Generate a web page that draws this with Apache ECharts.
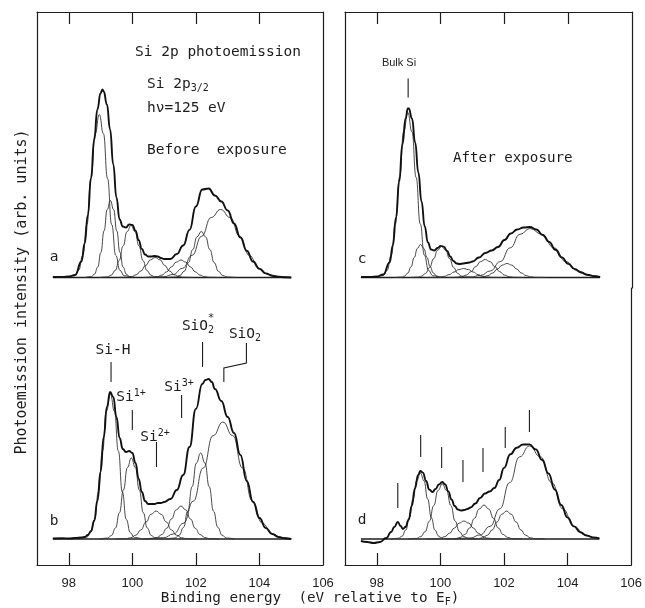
<!DOCTYPE html>
<html><head><meta charset="utf-8">
<script src="https://cdn.jsdelivr.net/npm/echarts@6/dist/echarts.min.js"></script>
<style>html,body{margin:0;padding:0;background:#fff}#c{width:645px;height:608px}</style>
</head><body><div id="c"></div><script>
// ---------- axis ticks ----------
const xTickValues = [98, 100, 102, 104];
const xLabelValues = [98, 100, 102, 104, 106];
const baseline = [[97.5, 0], [105.0, 0]];

// ---------- panel a : before exposure ----------
const aBulk = [[97.92,0],[98.18,1.8],[98.31,7.2],[98.44,22.1],[98.57,52.9],[98.70,98.9],[98.83,143.8],[98.96,163],[99.09,143.8],[99.22,98.9],[99.35,52.9],[99.48,22.1],[99.61,7.2],[99.74,1.8],[100.0,0]];
const aSiH = [[98.51,0],[98.71,0.85],[98.81,3.4],[98.91,10.4],[99.01,25.0],[99.11,46.7],[99.21,68.0],[99.31,77],[99.41,68.0],[99.51,46.7],[99.61,25.0],[99.71,10.4],[99.81,3.4],[99.91,0.85],[100.11,0]];
const aSi1 = [[98.96,0],[99.21,0.58],[99.335,2.3],[99.46,7.0],[99.585,16.9],[99.71,31.5],[99.835,45.9],[99.96,52],[100.085,45.9],[100.21,31.5],[100.335,16.9],[100.46,7.0],[100.585,2.3],[100.71,0.58],[100.96,0]];
const aSi2 = [[99.52,0],[99.82,0.22],[99.97,0.88],[100.12,2.7],[100.27,6.5],[100.42,12.1],[100.57,17.7],[100.72,20],[100.87,17.7],[101.02,12.1],[101.17,6.5],[101.32,2.7],[101.47,0.88],[101.62,0.22],[101.92,0]];
const aSi3 = [[100.33,0],[100.63,0.19],[100.78,0.77],[100.93,2.4],[101.08,5.7],[101.23,10.6],[101.38,15.4],[101.53,17.5],[101.68,15.4],[101.83,10.6],[101.98,5.7],[102.13,2.4],[102.28,0.77],[102.43,0.19],[102.73,0]];
const aSiO2s = [[101.09,0],[101.36,0.51],[101.495,2.0],[101.63,6.2],[101.765,14.9],[101.9,27.9],[102.035,40.6],[102.17,46],[102.305,40.6],[102.44,27.9],[102.575,14.9],[102.71,6.2],[102.845,2.0],[102.98,0.51],[103.25,0]];
const aSiO2 = [[100.4,0],[100.98,0.75],[101.28,3.0],[101.58,9.2],[101.88,22.1],[102.18,41.2],[102.48,60.0],[102.78,68],[103.08,60.0],[103.38,41.2],[103.68,22.1],[103.98,9.2],[104.28,3.0],[104.58,0.75],[105.0,0]];
const aFit = [[97.5,0.5],[97.8,0.6],[98.0,1],[98.2,2.5],[98.4,16],[98.5,34],[98.6,62.6],[98.7,99.6],[98.8,137.8],[98.9,168],[99.0,184.3],[99.06,188],[99.1,186],[99.2,173],[99.3,148],[99.4,113],[99.5,80],[99.6,58],[99.7,51],[99.8,50],[99.9,53],[100.0,52.6],[100.1,46.9],[100.2,37.3],[100.3,28.5],[100.4,23],[100.5,21],[100.6,21],[100.7,21.5],[100.8,21],[100.9,19.5],[101.0,18.5],[101.2,18.5],[101.4,23.5],[101.6,32],[101.8,47.6],[102.0,71],[102.2,88],[102.4,89],[102.6,82],[102.8,76],[103.0,67],[103.2,54],[103.4,40],[103.6,26.7],[103.8,16],[104.0,8.6],[104.2,4.1],[104.4,1.8],[104.6,0.7],[104.8,0.3],[105.0,0]];

// ---------- panel b : before exposure (labelled components) ----------
const bSiH = [[98.31,0],[98.56,1.6],[98.685,6.4],[98.81,19.6],[98.935,47.1],[99.06,88.0],[99.185,128],[99.31,145],[99.435,128],[99.56,88.0],[99.685,47.1],[99.81,19.6],[99.935,6.4],[100.06,1.6],[100.31,0]];
const bSi1 = [[98.97,0],[99.22,0.9],[99.345,3.6],[99.47,11.0],[99.595,26.3],[99.72,49.1],[99.845,71.5],[99.97,81],[100.095,71.5],[100.22,49.1],[100.345,26.3],[100.47,11.0],[100.595,3.6],[100.72,0.9],[100.97,0]];
const bSi2 = [[99.47,0],[99.79,0.31],[99.95,1.23],[100.11,3.8],[100.27,9.1],[100.43,17.0],[100.59,24.7],[100.75,28],[100.91,24.7],[101.07,17.0],[101.23,9.1],[101.39,3.8],[101.55,1.23],[101.71,0.31],[102.03,0]];
const bSi3 = [[100.33,0],[100.63,0.37],[100.78,1.45],[100.93,4.5],[101.08,10.7],[101.23,20.0],[101.38,29.1],[101.53,33],[101.68,29.1],[101.83,20.0],[101.98,10.7],[102.13,4.5],[102.28,1.45],[102.43,0.37],[102.73,0]];
const bSiO2s = [[101.07,0],[101.34,0.95],[101.475,3.8],[101.61,11.6],[101.745,27.9],[101.88,52.2],[102.015,75.9],[102.15,86],[102.285,75.9],[102.42,52.2],[102.555,27.9],[102.69,11.6],[102.825,3.8],[102.96,0.95],[103.23,0]];
const bSiO2 = [[100.4,0],[100.99,1.3],[101.3,5.1],[101.61,15.8],[101.92,38.0],[102.23,71.0],[102.54,103.3],[102.85,117],[103.16,103.3],[103.47,71.0],[103.78,38.0],[104.09,15.8],[104.4,5.1],[104.71,1.3],[105.0,0]];
const bFit = [[97.5,0.5],[97.8,0.8],[98.0,0.5],[98.2,1],[98.4,1.5],[98.5,2],[98.6,4],[98.7,8],[98.8,18],[98.9,38],[99.0,67],[99.1,102],[99.2,132],[99.3,147],[99.4,142],[99.5,122],[99.6,101],[99.7,90],[99.8,87],[99.9,88],[100.0,86],[100.1,76],[100.2,60],[100.3,47],[100.4,38],[100.5,35],[100.6,35],[100.7,35],[100.8,36],[100.9,36],[101.0,37],[101.2,40],[101.4,49],[101.6,64],[101.8,92],[102.0,130],[102.2,155],[102.3,159],[102.4,160],[102.5,157],[102.6,150],[102.8,138],[103.0,122],[103.2,106],[103.4,84],[103.6,58],[103.8,37],[104.0,21],[104.2,11],[104.4,5],[104.6,2],[104.8,0.8],[105.0,0]];

// ---------- panel c : after exposure ----------
const cBulk = [[97.93,0],[98.19,1.8],[98.32,7.2],[98.45,22.3],[98.58,53.6],[98.71,100.1],[98.84,145.6],[98.97,165],[99.10,145.6],[99.23,100.1],[99.36,53.6],[99.49,22.3],[99.62,7.2],[99.75,1.8],[100.01,0]];
const cSiH = [[98.57,0],[98.77,0.37],[98.87,1.45],[98.97,4.5],[99.07,10.7],[99.17,20.0],[99.27,29.1],[99.37,33],[99.47,29.1],[99.57,20.0],[99.67,10.7],[99.77,4.5],[99.87,1.45],[99.97,0.37],[100.17,0]];
const cSi1 = [[99.03,0],[99.28,0.34],[99.405,1.36],[99.53,4.2],[99.655,10.1],[99.78,18.8],[99.905,27.4],[100.03,31],[100.155,27.4],[100.28,18.8],[100.405,10.1],[100.53,4.2],[100.655,1.36],[100.78,0.34],[101.03,0]];
const cSi2 = [[99.52,0],[99.82,0.1],[99.97,0.4],[100.12,1.2],[100.27,2.9],[100.42,5.5],[100.57,7.9],[100.72,9],[100.87,7.9],[101.02,5.5],[101.17,2.9],[101.32,1.2],[101.47,0.4],[101.62,0.1],[101.92,0]];
const cSi3 = [[100.2,0],[100.5,0.2],[100.65,0.8],[100.8,2.4],[100.95,5.8],[101.1,10.9],[101.25,15.9],[101.4,18],[101.55,15.9],[101.7,10.9],[101.85,5.8],[102.0,2.4],[102.15,0.8],[102.3,0.2],[102.6,0]];
const cSiO2s = [[100.88,0],[101.18,0.16],[101.33,0.6],[101.48,1.9],[101.63,4.5],[101.78,8.5],[101.93,12.4],[102.08,14],[102.23,12.4],[102.38,8.5],[102.53,4.5],[102.68,1.9],[102.83,0.6],[102.98,0.16],[103.28,0]];
const cSiO2 = [[100.4,0],[100.94,0.54],[101.25,2.15],[101.56,6.6],[101.87,15.9],[102.18,29.7],[102.49,43.2],[102.8,49],[103.175,43.2],[103.55,29.7],[103.925,15.9],[104.3,6.6],[104.675,2.15],[105.0,0.6]];
const cFit = [[97.5,0.5],[97.8,0.5],[98.0,1],[98.2,3],[98.4,15],[98.5,32],[98.6,60],[98.7,96],[98.8,133],[98.9,159],[98.97,169],[99.0,169],[99.1,159],[99.2,135],[99.3,105],[99.4,76],[99.5,51],[99.6,35],[99.7,28],[99.8,27],[99.9,29.5],[100.0,31.6],[100.1,30.9],[100.2,26.6],[100.3,21],[100.4,16.5],[100.5,14],[100.6,13.5],[100.7,14],[100.8,14.5],[100.9,15],[101.0,16],[101.2,20],[101.4,24.5],[101.6,27],[101.8,30.5],[102.0,37.5],[102.2,44],[102.4,48],[102.6,50],[102.8,50.5],[103.0,48],[103.2,42.5],[103.4,35.6],[103.6,27.7],[103.8,20.1],[104.0,13.6],[104.2,8.6],[104.4,5],[104.6,2.8],[104.8,1.4],[105.0,0.6]];

// ---------- panel d : after exposure (marked components) ----------
const dSiH = [[98.45,0],[98.68,0.73],[98.795,2.9],[98.91,8.9],[99.025,21.4],[99.14,40.0],[99.255,58.2],[99.37,66],[99.485,58.2],[99.6,40.0],[99.715,21.4],[99.83,8.9],[99.945,2.9],[100.06,0.73],[100.29,0]];
const dSi1 = [[98.98,0],[99.25,0.61],[99.385,2.4],[99.52,7.4],[99.655,17.9],[99.79,33.4],[99.925,48.5],[100.06,55],[100.195,48.5],[100.33,33.4],[100.465,17.9],[100.6,7.4],[100.735,2.4],[100.87,0.61],[101.14,0]];
const dSi2 = [[99.54,0],[99.84,0.2],[99.99,0.8],[100.14,2.4],[100.29,5.8],[100.44,10.9],[100.59,15.9],[100.74,18],[100.89,15.9],[101.04,10.9],[101.19,5.8],[101.34,2.4],[101.49,0.8],[101.64,0.2],[101.94,0]];
const dSi3 = [[100.17,0],[100.47,0.38],[100.62,1.5],[100.77,4.6],[100.92,11.0],[101.07,20.6],[101.22,30.0],[101.37,34],[101.52,30.0],[101.67,20.6],[101.82,11.0],[101.97,4.6],[102.12,1.5],[102.27,0.38],[102.57,0]];
const dSiO2s = [[100.88,0],[101.18,0.31],[101.33,1.23],[101.48,3.8],[101.63,9.1],[101.78,17.0],[101.93,24.7],[102.08,28],[102.23,24.7],[102.38,17.0],[102.53,9.1],[102.68,3.8],[102.83,1.23],[102.98,0.31],[103.28,0]];
const dSiO2 = [[100.4,0],[100.94,1.0],[101.25,4.1],[101.56,12.6],[101.87,30.2],[102.18,56.4],[102.49,82.1],[102.8,93],[103.15,82.1],[103.5,56.4],[103.85,30.2],[104.2,12.6],[104.55,4.1],[104.9,1.0],[105.0,0.6]];
const dFit = [[97.5,-2],[97.7,-3],[97.9,-4],[98.1,-3],[98.3,1],[98.45,7],[98.55,12],[98.66,17],[98.75,13],[98.82,10],[98.9,12],[99.0,19],[99.1,33],[99.2,50.6],[99.3,64],[99.37,68],[99.45,66.4],[99.55,58],[99.65,49.5],[99.75,47],[99.85,50],[99.95,54.5],[100.06,57],[100.15,54.6],[100.25,47.6],[100.35,39.5],[100.45,33],[100.55,29.5],[100.65,28.5],[100.75,29],[100.85,30],[100.95,31.5],[101.1,35.5],[101.25,41],[101.4,45.5],[101.55,47.5],[101.7,51],[101.85,59],[102.0,71],[102.2,84.7],[102.4,91.3],[102.6,94.5],[102.8,94.6],[103.0,89.6],[103.2,79],[103.4,65.5],[103.6,49.5],[103.8,34],[104.0,21.4],[104.2,12.6],[104.4,6.8],[104.6,3.4],[104.8,1.6],[105.0,0.7]];

// ---------- label leader lines (eV, intensity) ----------
const bLeaders = [[[99.33,177],[99.33,157]],[[100.0,129],[100.0,109]],[[100.76,97],[100.76,72]],[[101.55,144],[101.55,121]],[[102.21,197],[102.21,172]],[[103.59,196],[103.59,176],[102.88,171],[102.88,157]]];
const cLeaders = [[[98.98,199],[98.98,180]]];
const dLeaders = [[[99.38,104],[99.38,82]],[[100.04,92],[100.04,71]],[[100.71,79],[100.71,57]],[[101.34,91],[101.34,67]],[[102.04,112],[102.04,91]],[[102.8,129],[102.8,107]]];
const dArrow = [[[98.66,56],[98.66,31]]];

// ---------- chart ----------
const INK = '#1d1d1d';
const MONO = '"DejaVu Sans Mono", monospace';
const chart = echarts.init(document.getElementById('c'), null, {renderer: 'canvas'});

const grids = [
  {left: 37, top: 12, width: 286, height: 276},
  {left: 37, top: 288, width: 286, height: 277},
  {left: 345, top: 12, width: 287, height: 276},
  {left: 345, top: 288, width: 287, height: 277}
];
const yRanges = [[-10.5, 265.5], [-26, 251], [-10.5, 265.5], [-26, 251]];

const xAxes = grids.map((g, i) => {
  const bottom = (i % 2 === 1);
  return {
    gridIndex: i, type: 'value', min: 97, max: 106,
    position: bottom ? 'bottom' : 'top',
    axisLine: {show: true, onZero: false, lineStyle: {color: INK, width: 1.2}},
    axisTick: {show: true, inside: true, length: 12, customValues: xTickValues, lineStyle: {color: INK, width: 1.2}},
    axisLabel: bottom ? {show: true, customValues: xLabelValues, margin: 12, color: INK, fontSize: 13, fontFamily: '"Liberation Sans", Arial, sans-serif'} : {show: false},
    splitLine: {show: false}
  };
});
const yAxes = [];
grids.forEach((g, i) => {
  ['left', 'right'].forEach(pos => {
    yAxes.push({
      gridIndex: i, type: 'value', min: yRanges[i][0], max: yRanges[i][1], position: pos,
      axisLine: {show: true, onZero: false, lineStyle: {color: INK, width: 1.2}},
      axisTick: {show: false}, axisLabel: {show: false}, splitLine: {show: false}
    });
  });
});

const panels = [
  {comps: [aBulk, aSiH, aSi1, aSi2, aSi3, aSiO2s, aSiO2], fit: aFit, g: 0},
  {comps: [bSiH, bSi1, bSi2, bSi3, bSiO2s, bSiO2], fit: bFit, g: 1},
  {comps: [cBulk, cSiH, cSi1, cSi2, cSi3, cSiO2s, cSiO2], fit: cFit, g: 2},
  {comps: [dSiH, dSi1, dSi2, dSi3, dSiO2s, dSiO2], fit: dFit, g: 3}
];
const series = [];
function line(data, g, width, color, z) {
  return {type: 'line', xAxisIndex: g, yAxisIndex: g * 2, data: data, smooth: 0.5, smoothMonotone: 'x',
    symbol: 'none', lineStyle: {width: width, color: color}, silent: true, z: z};
}
panels.forEach(p => {
  series.push(line(baseline, p.g, 1.4, INK, 2));
  p.comps.forEach(c => series.push(line(c, p.g, 0.9, '#333', 3)));
  series.push(line(p.fit, p.g, 1.9, '#111', 4));
});
function leaders(list, g, arrow) {
  return {type: 'lines', coordinateSystem: 'cartesian2d', xAxisIndex: g, yAxisIndex: g * 2, polyline: true,
    symbol: arrow ? ['none', 'arrow'] : ['none', 'none'], symbolSize: 7,
    lineStyle: {color: INK, width: 1.1, opacity: 1}, silent: true,
    data: list.map(c => ({coords: c}))};
}
series.push(leaders(bLeaders, 1, false));
series.push(leaders(cLeaders, 2, false));
series.push(leaders(dLeaders, 3, false));
series.push(leaders(dArrow, 3, true));

function txt(text, x, y, size, align, extra) {
  const st = Object.assign({text: text, x: x, y: y, font: size + 'px ' + MONO, fill: INK,
    textAlign: align || 'left', textVerticalAlign: 'middle'}, extra || {});
  return {type: 'text', style: st, silent: true};
}
const supRich = {sup: {fontSize: 10, fontFamily: MONO, lineHeight: 10, verticalAlign: 'top', fill: INK},
                 sub: {fontSize: 10, fontFamily: MONO, lineHeight: 10, verticalAlign: 'bottom', fill: INK}};
const graphics = [
  txt('Si 2p photoemission', 135, 52, 14.5),
  txt('Si 2p{sub|3/2}', 147, 84, 14.5, 'left', {rich: supRich, lineHeight: 18}),
  txt('h\u03bd=125 eV', 147, 108, 14.5),
  txt('Before  exposure', 147, 150, 14.5),
  txt('a', 54, 257, 14.5, 'center'),
  txt('b', 54, 521, 14.5, 'center'),
  txt('c', 362, 259, 14.5, 'center'),
  txt('d', 362, 520, 14.5, 'center'),
  {type: 'text', silent: true, style: {text: 'Bulk Si', x: 399, y: 63, font: '11px "Liberation Sans", Arial, sans-serif', fill: INK, textAlign: 'center', textVerticalAlign: 'middle'}},
  txt('After exposure', 453, 158, 14.2),
  txt('Si-H', 113, 350, 14.5, 'center'),
  txt('Si{sup|1+}', 131, 397, 14.5, 'center', {rich: supRich, lineHeight: 18}),
  txt('Si{sup|2+}', 155, 437, 14.5, 'center', {rich: supRich, lineHeight: 18}),
  txt('Si{sup|3+}', 179, 387, 14.5, 'center', {rich: supRich, lineHeight: 18}),
  txt('SiO{sub|2}', 198, 326, 14.5, 'center', {rich: supRich, lineHeight: 18}),
  txt('*', 211, 318, 11, 'center'),
  txt('SiO{sub|2}', 245, 334, 14.5, 'center', {rich: supRich, lineHeight: 18}),
  txt('Binding energy  (eV relative to E{sub|F})', 310, 598, 14.3, 'center', {rich: supRich, lineHeight: 18}),
  {type: 'text', silent: true, x: 22, y: 292, rotation: Math.PI / 2,
   style: {text: 'Photoemission intensity (arb. units)', x: 0, y: 0, font: '15px ' + MONO, fill: INK, textAlign: 'center', textVerticalAlign: 'middle'}}
];

chart.setOption({
  animation: false,
  backgroundColor: '#fff',
  grid: grids,
  xAxis: xAxes,
  yAxis: yAxes,
  series: series,
  graphic: graphics
});
</script></body></html>
